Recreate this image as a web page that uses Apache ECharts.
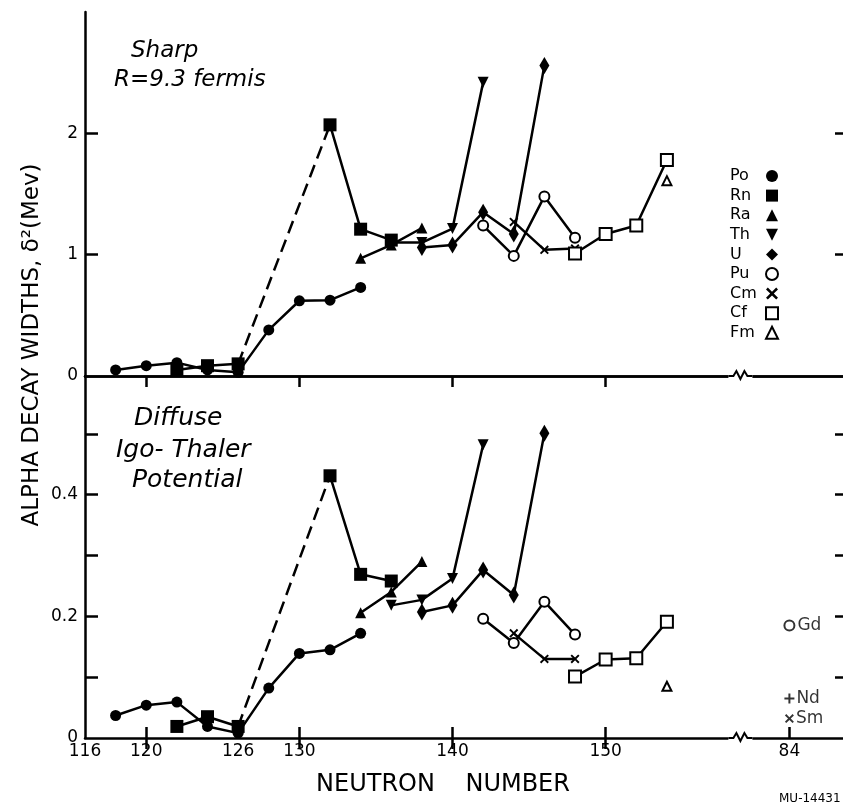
<!DOCTYPE html>
<html>
<head>
<meta charset="utf-8">
<script src="https://cdn.jsdelivr.net/npm/echarts@6/dist/echarts.min.js"></script>
<style>
html, body { margin: 0; padding: 0; background: #fff; }
#chart { width: 843px; height: 804px; }
</style>
</head>
<body>
<div id="chart"></div>
<script>
// neutron numbers, widths in the sharp (top) and diffuse (bottom) panels
const poN = [118, 120, 122, 124, 126, 128, 130, 132, 134];
const poTop = [0.05, 0.085, 0.11, 0.05, 0.03, 0.38, 0.62, 0.625, 0.73];
const poBot = [0.037, 0.054, 0.059, 0.019, 0.008, 0.082, 0.139, 0.145, 0.172];

const rnN = [122, 124, 126, 132, 134, 136];
const rnTop = [0.05, 0.085, 0.10, 2.07, 1.21, 1.12];
const rnBot = [0.019, 0.035, 0.019, 0.431, 0.269, 0.258];

const raN = [134, 136, 138];
const raTop = [0.97, 1.08, 1.22];
const raBot = [0.206, 0.24, 0.29];

const thN = [136, 138, 140, 142];
const thTop = [1.10, 1.10, 1.215, 2.42];
const thBot = [0.218, 0.227, 0.262, 0.482];

const uN = [138, 140, 142, 144, 146];
const uTop = [1.06, 1.08, 1.35, 1.17, 2.56];
const uBot = [0.207, 0.218, 0.276, 0.235, 0.501];

const puN = [142, 144, 146, 148];
const puTop = [1.24, 0.99, 1.48, 1.14];
const puBot = [0.196, 0.156, 0.224, 0.17];

const cmN = [144, 146, 148];
const cmTop = [1.27, 1.04, 1.05];
const cmBot = [0.172, 0.13, 0.13];

const cfN = [148, 150, 152, 154];
const cfTop = [1.01, 1.17, 1.24, 1.78];
const cfBot = [0.101, 0.129, 0.131, 0.191];

const fmN = [154];
const fmTop = [1.61];
const fmBot = [0.085];

// rare earths at N=84, drawn past the axis break
const reNames = ['Gd', 'Nd', 'Sm'];
const reBot = [0.185, 0.065, 0.032];
const n84At = 162;
const breakAt = 158.8;

const xLabelVals = [116, 120, 126, 130, 140, 150, 162];
const xTickVals = [120, 130, 140, 150, 162];
const xTopTicks = [120, 130, 140, 150];
const legendNames = ['Po', 'Rn', 'Ra', 'Th', 'U', 'Pu', 'Cm', 'Cf', 'Fm'];

const FONT = 'DejaVu Sans';
const XPATH = 'path://M0,1.5L1.5,0L5,3.5L8.5,0L10,1.5L6.5,5L10,8.5L8.5,10L5,6.5L1.5,10L0,8.5L3.5,5Z';
const PLUS = 'path://M4,0H6V4H10V6H6V10H4V6H0V4H4Z';

const sty = {
  Po: { symbol: 'circle', symbolSize: 11 },
  Rn: { symbol: 'rect', symbolSize: 13 },
  Ra: { symbol: 'triangle', symbolSize: 11 },
  Th: { symbol: 'triangle', symbolSize: 11, symbolRotate: 180 },
  U: { symbol: 'diamond', symbolSize: [10, 17] },
  Pu: { symbol: 'emptyCircle', symbolSize: 10 },
  Cm: { symbol: XPATH, symbolSize: 9 },
  Cf: { symbol: 'emptyRect', symbolSize: 12 },
  Fm: { symbol: 'emptyTriangle', symbolSize: 9 }
};

function pairs(ns, vs) {
  return ns.map((n, i) => [n, vs[i]]);
}

function line(name, data, panel) {
  const s = sty[name];
  return {
    name: name,
    type: 'line',
    xAxisIndex: panel === 0 ? 0 : 2,
    yAxisIndex: panel === 0 ? 0 : 2,
    data: data,
    symbol: s.symbol,
    symbolSize: s.symbolSize,
    symbolRotate: s.symbolRotate || 0,
    showAllSymbol: true,
    lineStyle: { color: '#000', width: 2.5 },
    itemStyle: { color: '#000', borderColor: '#000', borderWidth: s.symbol.indexOf('empty') === 0 ? 2 : 0 },
    silent: true
  };
}

function rnSolid(vs) {
  const d = pairs(rnN, vs);
  d.splice(3, 0, [129, '-']); // dashed part drawn separately
  return d;
}

function rnDash(vs, panel) {
  return {
    name: 'Rn-dash',
    type: 'line',
    xAxisIndex: panel === 0 ? 0 : 2,
    yAxisIndex: panel === 0 ? 0 : 2,
    data: [[rnN[2], vs[2]], [rnN[3], vs[3]]],
    symbol: 'none',
    lineStyle: { color: '#000', width: 2.5, type: [13, 7] },
    silent: true,
    z: 1
  };
}

const series = [];
[0, 1].forEach(p => {
  series.push(line('Po', pairs(poN, p ? poBot : poTop), p));
  series.push(line('Rn', rnSolid(p ? rnBot : rnTop), p));
  series.push(rnDash(p ? rnBot : rnTop, p));
  series.push(line('Ra', pairs(raN, p ? raBot : raTop), p));
  series.push(line('Th', pairs(thN, p ? thBot : thTop), p));
  series.push(line('U', pairs(uN, p ? uBot : uTop), p));
  series.push(line('Pu', pairs(puN, p ? puBot : puTop), p));
  series.push(line('Cm', pairs(cmN, p ? cmBot : cmTop), p));
  series.push(line('Cf', pairs(cfN, p ? cfBot : cfTop), p));
  series.push(line('Fm', pairs(fmN, p ? fmBot : fmTop), p));
});

const reSym = { Gd: ['emptyCircle', 10], Nd: [PLUS, 10], Sm: [XPATH, 9] };
reNames.forEach((nm, i) => {
  series.push({
    name: nm,
    type: 'scatter',
    xAxisIndex: 2,
    yAxisIndex: 2,
    data: [[n84At, reBot[i]]],
    symbol: reSym[nm][0],
    symbolSize: reSym[nm][1],
    itemStyle: { color: '#000', borderColor: '#000', borderWidth: nm === 'Gd' ? 2 : 0 },
    label: { show: true, position: 'right', distance: 2, formatter: nm, color: '#000', fontFamily: FONT, fontSize: 17 },
    silent: true
  });
});

const tickStyle = { color: '#000', width: 2.5 };
const labelStyle = { color: '#000', fontFamily: FONT, fontSize: 17 };

const chart = echarts.init(document.getElementById('chart'));
chart.setOption({
  animation: false,
  backgroundColor: '#fff',
  grid: [
    { left: 85, right: 0, top: 12, height: 364 },
    { left: 85, right: 0, top: 376, height: 362 }
  ],
  xAxis: [
    { gridIndex: 0, type: 'value', min: 116, max: 165.5, position: 'bottom',
      axisLine: { lineStyle: tickStyle }, axisTick: { show: false }, axisLabel: { show: false }, splitLine: { show: false } },
    { gridIndex: 0, type: 'value', min: 116, max: 165.5, position: 'top',
      axisLine: { lineStyle: tickStyle },
      axisTick: { inside: true, length: 11, lineStyle: tickStyle, customValues: xTopTicks },
      axisLabel: { show: false }, splitLine: { show: false } },
    { gridIndex: 1, type: 'value', min: 116, max: 165.5, position: 'bottom',
      axisLine: { lineStyle: tickStyle },
      axisTick: { inside: true, length: 11, lineStyle: tickStyle, customValues: xTickVals },
      axisLabel: Object.assign({ margin: 5, customValues: xLabelVals, formatter: v => (v === n84At ? '84' : String(v)) }, labelStyle),
      splitLine: { show: false } },
    { gridIndex: 1, type: 'value', min: 116, max: 165.5, position: 'top',
      axisLine: { show: false },
      axisTick: { inside: true, length: 11, lineStyle: tickStyle, customValues: xTopTicks },
      axisLabel: { show: false }, splitLine: { show: false } }
  ],
  yAxis: [
    { gridIndex: 0, type: 'value', min: 0, max: 3, position: 'left',
      axisLine: { show: true, lineStyle: tickStyle },
      axisTick: { show: true, inside: true, length: 13, lineStyle: tickStyle, customValues: [1, 2] },
      axisLabel: Object.assign({ margin: 7, customValues: [0, 1, 2] }, labelStyle),
      splitLine: { show: false } },
    { gridIndex: 0, type: 'value', min: 0, max: 3, position: 'right',
      axisLine: { show: false },
      axisTick: { show: true, inside: true, length: 8, lineStyle: tickStyle, customValues: [1, 2] },
      axisLabel: { show: false }, splitLine: { show: false } },
    { gridIndex: 1, type: 'value', min: 0, max: 0.595, position: 'left',
      axisLine: { show: true, lineStyle: tickStyle },
      axisTick: { show: true, inside: true, length: 13, lineStyle: tickStyle, customValues: [0.1, 0.2, 0.3, 0.4, 0.5] },
      axisLabel: Object.assign({ margin: 7, customValues: [0, 0.2, 0.4], formatter: v => (v === 0 ? '0' : v.toFixed(1)) }, labelStyle),
      splitLine: { show: false } },
    { gridIndex: 1, type: 'value', min: 0, max: 0.595, position: 'right',
      axisLine: { show: false },
      axisTick: { show: true, inside: true, length: 8, lineStyle: tickStyle, customValues: [0.1, 0.2, 0.3, 0.4, 0.5] },
      axisLabel: { show: false }, splitLine: { show: false } }
  ],
  legend: {
    data: legendNames,
    orient: 'vertical',
    left: 725,
    top: 163,
    align: 'right',
    itemWidth: 14,
    itemHeight: 15,
    itemGap: 3.6,
    selectedMode: false,
    lineStyle: { width: 0, opacity: 0 },
    formatter: name => '{a|' + name + '}',
    textStyle: {
      color: '#000', fontFamily: FONT, fontSize: 16, lineHeight: 15,
      rich: { a: { width: 30, align: 'left', fontFamily: FONT, fontSize: 16, lineHeight: 15, color: '#000' } }
    }
  },
  series: series
});

// axis breaks and free text
function zig(y, x) {
  return [
    { type: 'rect', shape: { x: x - 12, y: y - 3, width: 24, height: 6 }, style: { fill: '#fff' }, z: 50 },
    { type: 'polyline', z: 51,
      shape: { points: [[x - 12, y], [x - 7, y], [x - 4, y - 5], [x, y + 3], [x + 4, y - 5], [x + 7, y], [x + 12, y]] },
      style: { stroke: '#000', lineWidth: 2, fill: null } }
  ];
}
const bx = chart.convertToPixel({ xAxisIndex: 2 }, breakAt);
const yMid = chart.convertToPixel({ yAxisIndex: 0 }, 0);
const yBot = chart.convertToPixel({ yAxisIndex: 2 }, 0);

function txt(s, x, y, size, italic, align) {
  return { type: 'text', x: x, y: y, z: 60,
    style: { text: s, fill: '#000', font: (italic ? 'italic ' : '') + size + 'px "' + FONT + '"',
      textAlign: align || 'left', textVerticalAlign: 'middle' } };
}

chart.setOption({
  graphic: [].concat(
    zig(yMid, bx), zig(yBot, bx),
    [
      txt('Sharp', 131, 51, 23, true),
      txt('R=9.3 fermis', 114, 80, 23, true),
      txt('Diffuse', 134, 418, 25, true),
      txt('Igo- Thaler', 116, 450, 25, true),
      txt('Potential', 132, 480, 25, true),
      txt('NEUTRON    NUMBER', 443, 785, 24, false, 'center'),
      txt('MU-14431', 779, 799, 12, false),
      { type: 'text', x: 32, y: 345, rotation: Math.PI / 2, z: 60,
        style: { text: 'ALPHA DECAY WIDTHS, δ²(Mev)', fill: '#000', font: '23px "' + FONT + '"',
          textAlign: 'center', textVerticalAlign: 'middle' } }
    ]
  )
});
</script>
</body>
</html>
